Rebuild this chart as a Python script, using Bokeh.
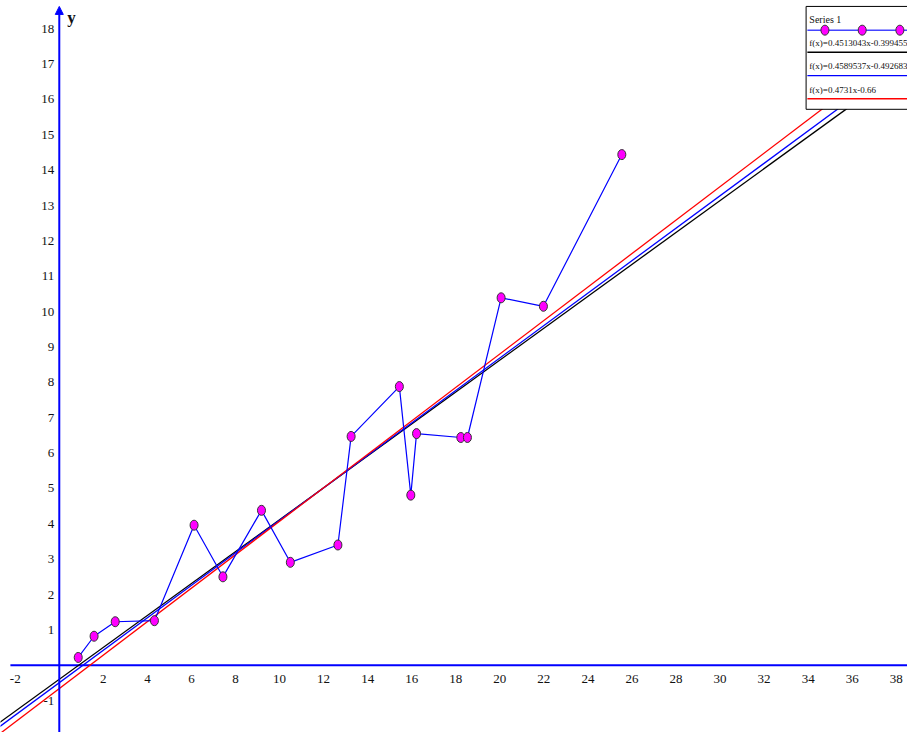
from bokeh.plotting import figure
from bokeh.models import Range1d, Arrow, NormalHead
from bokeh.embed import file_html
from bokeh.resources import INLINE
from bokeh.core.properties import value

# ---------------- data ----------------
x_data = [0.86, 1.58, 2.54, 4.32, 6.12, 7.43, 9.18, 10.49, 12.65, 13.25,
          15.44, 15.96, 16.22, 18.23, 18.53, 20.06, 21.98, 25.54]
y_data = [0.22, 0.82, 1.23, 1.26, 3.96, 2.50, 4.38, 2.91, 3.40, 6.47,
          7.88, 4.81, 6.55, 6.44, 6.44, 10.39, 10.15, 14.44]

series_label = "Series 1"
fit_slopes = [0.4513043, 0.4589537, 0.4731]
fit_intercepts = [-0.399455, -0.492683, -0.66]
fit_labels = ["f(x)=0.4513043x-0.399455", "f(x)=0.4589537x-0.492683", "f(x)=0.4731x-0.66"]
fit_colors = ["black", "blue", "red"]

x_ticks = [-2, 2, 4, 6, 8, 10, 12, 14, 16, 18, 20, 22, 24, 26, 28, 30, 32, 34, 36, 38]
y_ticks = [-1, 1, 2, 3, 4, 5, 6, 7, 8, 9, 10, 11, 12, 13, 14, 15, 16, 17, 18]
y_axis_label = "y"

# ---------------- layout ----------------
W, H = 907, 732
REF_W, REF_H = 915, 740
X0, SX = 59.3, 22.22     # reference px of x=0, px per unit
Y0, SY = 672.0, 35.75    # reference px of y=0 (from top), px per unit

def ix(px):  # reference px -> data x
    return (px - X0) / SX

def iy(py):  # reference px from top -> data y
    return (Y0 - py) / SY

x_lo, x_hi = ix(0), ix(REF_W)
y_hi, y_lo = iy(0), iy(REF_H)

p = figure(width=W, height=H, x_range=Range1d(x_lo, x_hi), y_range=Range1d(y_lo, y_hi),
           output_backend="svg", toolbar_location=None, min_border=0,
           x_axis_location=None, y_axis_location=None)
p.grid.visible = False
p.outline_line_color = None
p.background_fill_color = "white"

FONT = value("Liberation Serif")
AX = "#0000ff"
TXT = "#111111"

# axes through the origin
p.segment(x0=[ix(10)], y0=[0], x1=[x_hi + 1], y1=[0], line_color=AX, line_width=2)
p.add_layout(Arrow(end=NormalHead(size=8, fill_color=AX, line_color=AX),
                   x_start=0, y_start=y_lo - 1, x_end=0, y_end=iy(6),
                   line_color=AX, line_width=2))

# tick labels
p.text(x=x_ticks, y=[0] * len(x_ticks), text=[str(t) for t in x_ticks],
       y_offset=14, text_align="center", text_baseline="middle",
       text_font=FONT, text_font_size="13px", text_color=TXT)
p.text(x=[0] * len(y_ticks), y=y_ticks, text=[str(t) for t in y_ticks],
       x_offset=-5, text_align="right", text_baseline="middle",
       text_font=FONT, text_font_size="13px", text_color=TXT)
p.text(x=[0], y=[iy(17)], text=[y_axis_label], x_offset=8,
       text_align="left", text_baseline="middle",
       text_font=FONT, text_font_size="17px", text_font_style="bold", text_color=TXT)

# regression lines
for m, b, c in zip(fit_slopes, fit_intercepts, fit_colors):
    xs = [x_lo - 1, x_hi + 1]
    p.line(xs, [m * v + b for v in xs], line_color=c, line_width=1.3)

# series
p.line(x_data, y_data, line_color="blue", line_width=1.2)
p.ellipse(x=x_data, y=y_data, width=8, height=10, width_units="screen", height_units="screen",
          fill_color="#ff00ff", line_color="#333333", line_width=1)

# legend box (top right, cut by the edge)
lg_left, lg_right = ix(812.7), ix(REF_W + 20)
p.quad(left=[lg_left], right=[lg_right], top=[iy(6)], bottom=[iy(110)],
       fill_color="white", line_color="black", line_width=1)
p.text(x=[ix(816)], y=[iy(19.5)], text=[series_label], text_align="left",
       text_baseline="middle", text_font=FONT, text_font_size="10px", text_color=TXT)
p.line([ix(814), lg_right], [iy(30)] * 2, line_color="#4444ff", line_width=1.5)
p.ellipse(x=[ix(831.7), ix(869.3), ix(907.3)], y=[iy(30)] * 3, width=8, height=10,
          width_units="screen", height_units="screen",
          fill_color="#ff00ff", line_color="#333333", line_width=1)
row_text_py = [43.3, 66.7, 90.7]
row_line_py = [52.3, 76.0, 99.3]
for lab, c, ty, ly in zip(fit_labels, fit_colors, row_text_py, row_line_py):
    p.text(x=[ix(816)], y=[iy(ty)], text=[lab], text_align="left", text_baseline="middle",
           text_font=FONT, text_font_size="9px", text_color=TXT)
    p.line([ix(814), lg_right], [iy(ly)] * 2, line_color=c, line_width=1.3)

open("out.html", "w").write(file_html(p, INLINE))
